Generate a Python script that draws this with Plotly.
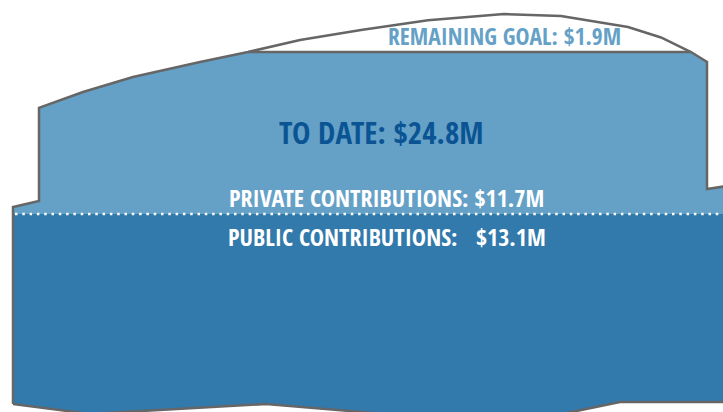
import plotly.graph_objects as go

# ---- data ($ millions) ----
public_total = 13.1
private_total = 11.7
to_date_total = 24.8
remaining_goal = 1.9

label_goal = "REMAINING GOAL: $1.9M"
label_to_date = "TO DATE: $24.8M"
label_private = "PRIVATE CONTRIBUTIONS: $11.7M"
label_public = "PUBLIC CONTRIBUTIONS:\u00a0\u00a0 $13.1M"

# decorative silhouette (horizontal position, height in $M)
outline_x = [13, 13, 39, 39, 83, 133, 200, 248, 300, 361, 428, 504, 561, 628, 661, 691,
             707, 707, 727, 727, 620, 567, 460, 266, 90]
outline_y = [-0.62, 13.61, 14.04, 20.76, 21.91, 22.99, 24.08, 24.80, 25.67, 26.39, 27.10,
             27.54, 27.40, 26.60, 25.85, 24.80, 24.08, 14.91, 15.12, -0.48, -0.48, -1.27,
             -1.80, -0.62, -1.34]

LIGHT = "#65a1c7"
DARK = "#3279ac"
GRAY = "#666666"
NAVY = "#0b5494"
FONT = "Open Sans Condensed, Roboto Condensed, sans-serif"

poly = list(zip(outline_x, outline_y))


def clip(points, level, keep_below):
    def inside(p):
        return p[1] <= level if keep_below else p[1] >= level

    def cross(a, b):
        t = (level - a[1]) / (b[1] - a[1])
        return (a[0] + t * (b[0] - a[0]), level)

    out = []
    for i in range(len(points)):
        cur, prev = points[i], points[i - 1]
        if inside(cur):
            if not inside(prev):
                out.append(cross(prev, cur))
            out.append(cur)
        elif inside(prev):
            out.append(cross(prev, cur))
    return out


def level_span(points, level):
    xs = []
    for i in range(len(points)):
        a, b = points[i - 1], points[i]
        if (a[1] < level) != (b[1] < level):
            t = (level - a[1]) / (b[1] - a[1])
            xs.append(a[0] + t * (b[0] - a[0]))
    return min(xs), max(xs)


public_poly = clip(poly, public_total, True)
private_poly = clip(clip(poly, public_total, False), public_total + private_total, True)

fig = go.Figure()


def add_fill(pts, color):
    fig.add_trace(go.Scatter(
        x=[p[0] for p in pts] + [pts[0][0]],
        y=[p[1] for p in pts] + [pts[0][1]],
        mode="lines", fill="toself", fillcolor=color,
        line=dict(width=0, color=color), hoverinfo="skip"))


add_fill(public_poly, DARK)
add_fill(private_poly, LIGHT)

# outline
fig.add_trace(go.Scatter(
    x=outline_x + [outline_x[0]], y=outline_y + [outline_y[0]],
    mode="lines", line=dict(color=GRAY, width=2.5), hoverinfo="skip"))

# to-date level line across the goal bump
x0, x1 = level_span(poly, to_date_total)
fig.add_trace(go.Scatter(x=[x0, x1], y=[to_date_total, to_date_total], mode="lines",
                         line=dict(color=GRAY, width=2.5), hoverinfo="skip"))

# public / private divider
x0, x1 = level_span(poly, public_total)
fig.add_trace(go.Scatter(x=[x0 + 2, x1], y=[public_total, public_total], mode="lines",
                         line=dict(color="white", width=2.5, dash="2.5px,4.8px"),
                         hoverinfo="skip"))

cx = 384
fig.add_annotation(x=504, y=to_date_total, yshift=16, text=label_goal, showarrow=False,
                   font=dict(family=FONT, size=23.5, color=LIGHT, weight="bold"))
fig.add_annotation(x=cx - 3, y=public_total + private_total / 2, yshift=1.5,
                   text=label_to_date, showarrow=False,
                   font=dict(family=FONT, size=31, color=NAVY, weight="bold"))
fig.add_annotation(x=cx + 2, y=public_total, yshift=17, text=label_private, showarrow=False,
                   font=dict(family=FONT, size=24, color="white", weight="bold"))
fig.add_annotation(x=cx + 3, y=public_total, yshift=-22.5, text=label_public, showarrow=False,
                   font=dict(family=FONT, size=24, color="white", weight="bold"))

fig.update_layout(
    width=723, height=412,
    margin=dict(l=0, r=0, t=0, b=0),
    paper_bgcolor="white", plot_bgcolor="white",
    showlegend=False,
    xaxis=dict(range=[0, 723], visible=False, fixedrange=True),
    yaxis=dict(range=[-1.2, 28.556], visible=False, fixedrange=True),
)

fig.write_html("out.html", config={"displayModeBar": False},
               post_script="document.body.style.margin='0';")
